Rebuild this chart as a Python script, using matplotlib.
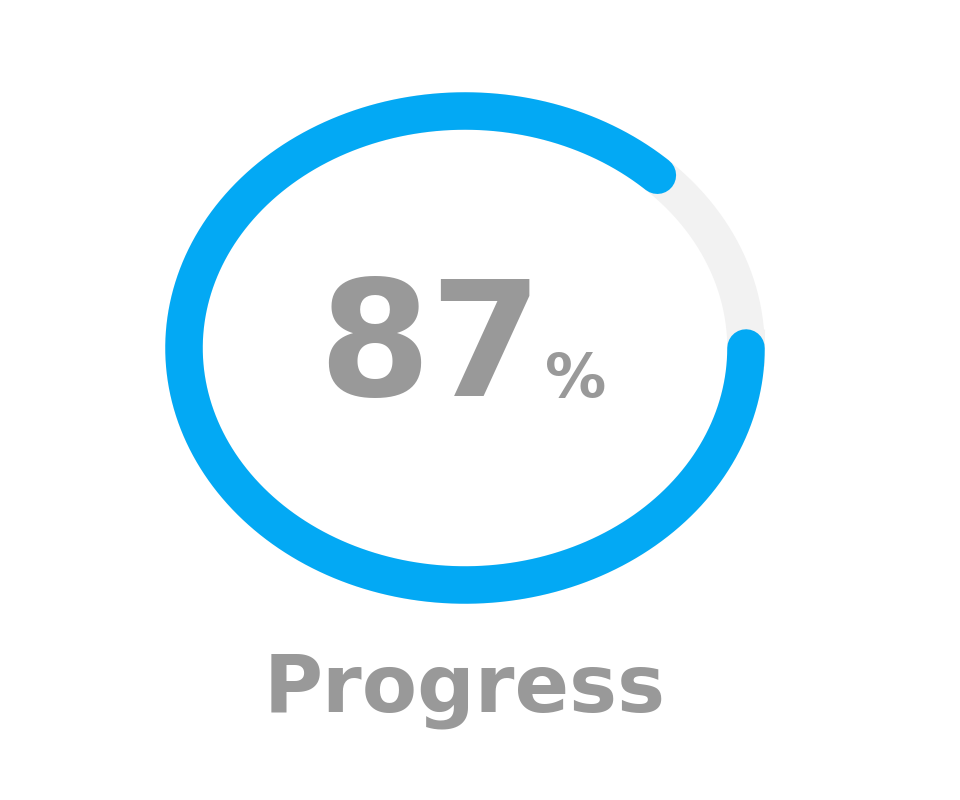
import numpy as np
import matplotlib.pyplot as plt

value = 87
label = "Progress"
track_color = "#f2f2f2"
bar_color = "#03a9f4"
text_color = "#999999"

fig = plt.figure(figsize=(9.6, 8), dpi=100)
ax = fig.add_axes([0, 0, 1, 1])
ax.set_xlim(0, 960)
ax.set_ylim(800, 0)
ax.axis("off")

cx, cy, rx, ry = 465, 348, 281, 237
lw = 27

# background track
t = np.linspace(0, 2 * np.pi, 400)
ax.plot(cx + rx * np.cos(t), cy + ry * np.sin(t), color=track_color, lw=lw)

# progress arc, from 3 o'clock going clockwise
end = 2 * np.pi * value / 100
t = np.linspace(0, end, 400)
ax.plot(cx + rx * np.cos(t), cy + ry * np.sin(t), color=bar_color, lw=lw,
        solid_capstyle="round")

ax.text(430, 352, str(value), fontsize=116, fontweight="bold", color=text_color,
        ha="center", va="center", family="DejaVu Sans")
ax.text(545, 381, "%", fontsize=44, fontweight="bold", color=text_color,
        ha="left", va="center", family="DejaVu Sans")
ax.text(465, 690, label, fontsize=58, fontweight="bold", color=text_color,
        ha="center", va="center", family="DejaVu Sans")

fig.savefig("out.png")
